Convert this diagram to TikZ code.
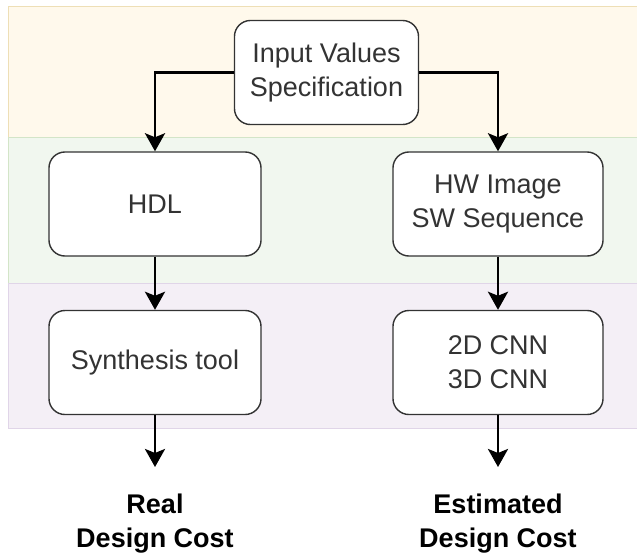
\documentclass[tikz,border=0pt]{standalone}
\usepackage{fontspec}
\setmainfont{Liberation Sans}
\usetikzlibrary{arrows.meta}
\definecolor{bandA}{HTML}{FFF9EC}
\definecolor{bandB}{HTML}{F1F7EF}
\definecolor{bandC}{HTML}{F4EFF6}
\definecolor{lineA}{HTML}{EEDFB6}
\definecolor{lineB}{HTML}{D3E5C8}
\definecolor{lineC}{HTML}{E0D5E8}
\definecolor{txt}{HTML}{333333}
\tikzset{
	blk/.style={draw=black!80, line width=1pt, fill=white, rounded corners=0.4cm, minimum width=5.3cm, minimum height=2.6cm, align=center, text=txt, font=\fontsize{19.2}{24.2}\selectfont},
	res/.style={align=center, font=\bfseries\fontsize{19.2}{24.2}\selectfont},
	flow/.style={line width=2.1pt, -{Stealth[length=0.45cm, width=0.5cm, inset=0.1cm]}}
}
\begin{document}
\begin{tikzpicture}[x=0.025cm, y=-0.025cm]
			\useasboundingbox (0,0) rectangle (637,554);
			% bands
			\filldraw[fill=bandA, draw=lineA, line width=0.6pt] (8,6) rectangle (645,137);
			\filldraw[fill=bandB, draw=lineB, line width=0.6pt] (8,137) rectangle (645,283);
			\filldraw[fill=bandC, draw=lineC, line width=0.6pt] (8,283) rectangle (645,428);
			% boxes
			\node[blk, minimum width=4.6cm, minimum height=2.6cm] (input) at (326.5,72.5) {Input Values\\Specification};
			\node[blk] (hdl) at (155,204) {HDL};
			\node[blk, minimum width=5.25cm] (hwsw) at (498,204) {HW Image\\SW Sequence};
			\node[blk] (synth) at (155,362.5) {Synthesis tool};
			\node[blk, minimum width=5.25cm] (cnn) at (498,362.5) {2D CNN\\3D CNN};
			% results
			\coordinate (realend) at (155,467);
			\coordinate (estend) at (498,467);
			\node[res] (real) at (155,524) {Real\\Design Cost};
			\node[res] (est) at (498,524) {Estimated\\Design Cost};
			% arrows
			\draw[flow] (input.west) -| (hdl.north);
			\draw[flow] (input.east) -| (hwsw.north);
			\draw[flow] (hdl) -- (synth);
			\draw[flow] (hwsw) -- (cnn);
			\draw[flow] (synth) -- (realend);
			\draw[flow] (cnn) -- (estend);
			% \draw[flow] (real) -- (est);
		\end{tikzpicture}
\end{document}
